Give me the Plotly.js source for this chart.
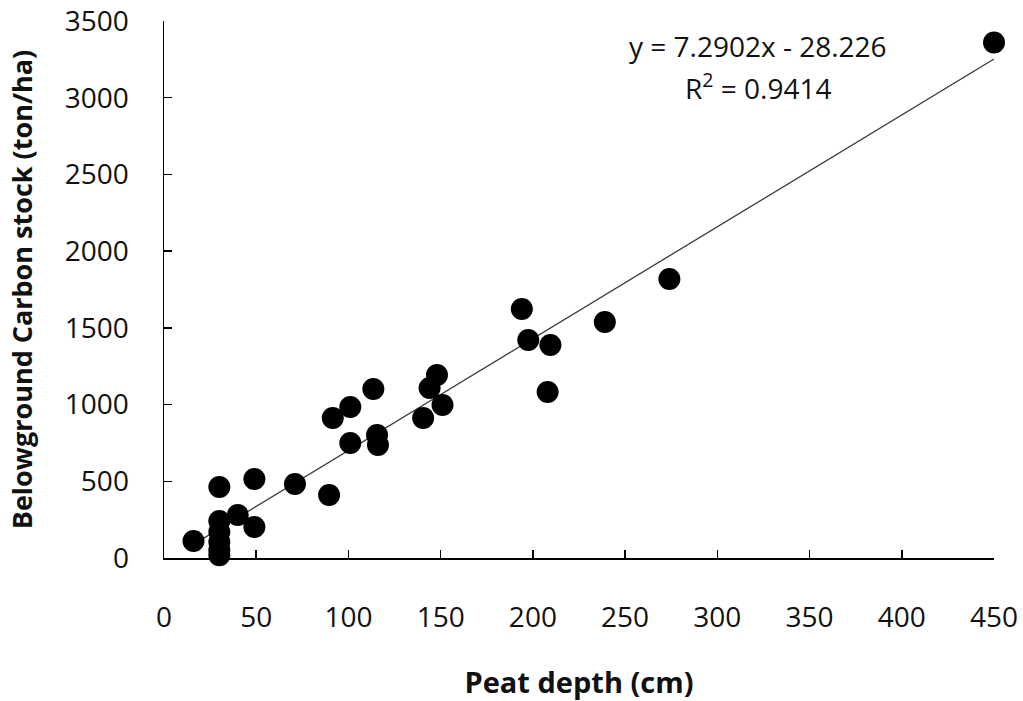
<!DOCTYPE html>
<html>
<head>
<meta charset="utf-8">
<script src="https://cdn.plot.ly/plotly-3.0.1.min.js"></script>
<style>html,body{margin:0;padding:0;background:#fff;}#chart{width:1023px;height:701px;}</style>
</head>
<body>
<div id="chart"></div>
<script>
// Peat depth (cm)
const peatDepth = [16, 30, 30, 30, 30, 30, 30, 40, 49, 49, 71, 89.5, 91.5, 101, 101, 113.5, 115.5, 116, 140.5, 144, 148, 151, 194, 197.5, 209.5, 208, 239, 274, 450];
// Belowground carbon stock (ton/ha)
const carbonStock = [111, 463, 241, 169, 104, 52, 18, 280, 515, 202, 482, 410, 912, 984, 750, 1101, 802, 737, 912, 1108, 1193, 997, 1623, 1421, 1388, 1082, 1538, 1818, 3360];
// Fitted trendline coefficients as printed on the chart
const slope = 7.2902;
const intercept = -28.226;
const rSquared = 0.9414;
const xTicks = [0, 50, 100, 150, 200, 250, 300, 350, 400, 450];
const yTicks = [0, 500, 1000, 1500, 2000, 2500, 3000, 3500];

const xMin = Math.min(...peatDepth), xMax = Math.max(...peatDepth);
const trendX = [xMin, xMax];
const trendY = trendX.map(v => slope * v + intercept);

const FONT = 'Open Sans, Liberation Sans, sans-serif';

const traces = [
  {x: trendX, y: trendY, mode: 'lines', type: 'scatter', line: {color: '#3a3a3a', width: 1.3}, hoverinfo: 'skip', showlegend: false, cliponaxis: false},
  {x: peatDepth, y: carbonStock, mode: 'markers', type: 'scatter', marker: {color: '#000', size: 22, line: {width: 0}}, showlegend: false, cliponaxis: false}
];

const layout = {
  width: 1023, height: 701,
  margin: {l: 164, r: 29, t: 21, b: 143},
  paper_bgcolor: '#fff', plot_bgcolor: '#fff',
  showlegend: false,
  font: {family: FONT, color: '#111', size: 28},
  xaxis: {
    range: [0, 450], tickvals: xTicks, ticktext: xTicks.map(String),
    showgrid: false, zeroline: false, showline: true, linecolor: '#000', linewidth: 1.5,
    ticks: 'inside', ticklen: 8, tickwidth: 1.5, tickcolor: '#000',
    tickfont: {family: FONT, size: 28, color: '#111'}, ticklabelstandoff: 34,
    title: {text: '<b>Peat depth (cm)</b>', font: {family: FONT, size: 29, color: '#111'}, standoff: 38},
    fixedrange: true
  },
  yaxis: {
    range: [0, 3500], tickvals: yTicks, ticktext: yTicks.map(String),
    showgrid: false, zeroline: false, showline: true, linecolor: '#000', linewidth: 1.5,
    ticks: 'inside', ticklen: 8, tickwidth: 1.5, tickcolor: '#000',
    tickfont: {family: FONT, size: 28, color: '#111'}, ticklabelstandoff: 28,
    title: {text: '<b>Belowground Carbon stock (ton/ha)</b>', font: {family: FONT, size: 27, color: '#111'}, standoff: 24},
    fixedrange: true
  },
  annotations: [
    {xref: 'paper', yref: 'paper', x: 0.716, y: 0.954, text: 'y = ' + slope + 'x - ' + Math.abs(intercept), showarrow: false, font: {family: FONT, size: 28, color: '#111'}, xanchor: 'center', yanchor: 'middle'},
    {xref: 'paper', yref: 'paper', x: 0.716, y: 0.878, text: 'R<sup>2</sup> = ' + rSquared, showarrow: false, font: {family: FONT, size: 28, color: '#111'}, xanchor: 'center', yanchor: 'middle'}
  ]
};

Plotly.newPlot('chart', traces, layout, {displayModeBar: false, staticPlot: true});
</script>
</body>
</html>
